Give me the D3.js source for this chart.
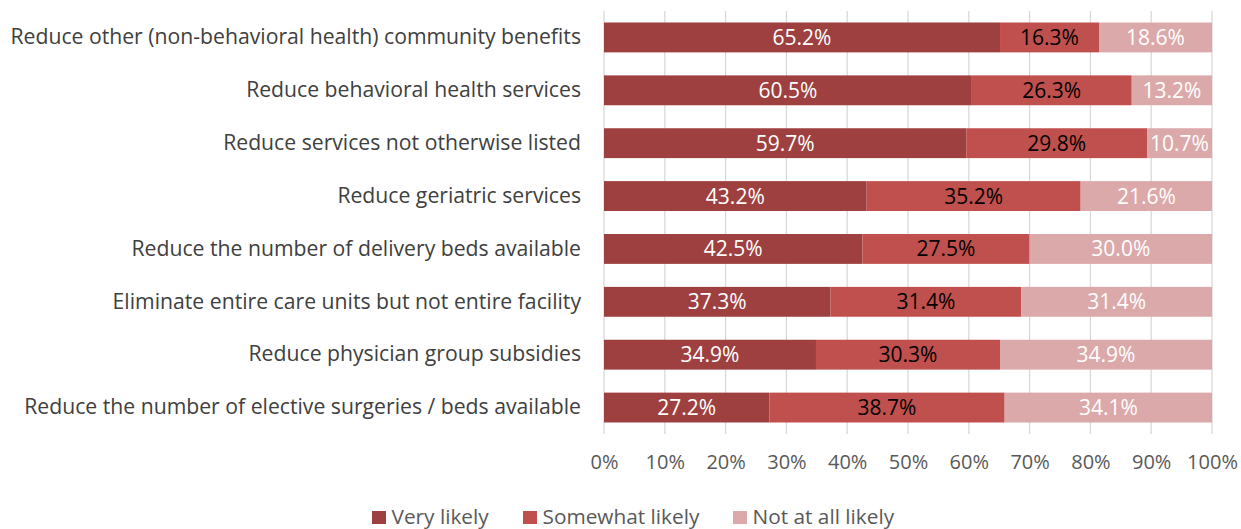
<!DOCTYPE html>
<html><head><meta charset="utf-8">
<script src="https://cdn.jsdelivr.net/npm/d3@7"></script>
<style>body{margin:0;background:#fff;} svg{display:block;font-family:"Open Sans",sans-serif;}</style>
</head><body><svg id="c" width="1241" height="529"></svg>
<script>
const categories = [
  "Reduce other (non-behavioral health) community benefits",
  "Reduce behavioral health services",
  "Reduce services not otherwise listed",
  "Reduce geriatric services",
  "Reduce the number of delivery beds available",
  "Eliminate entire care units but not entire facility",
  "Reduce physician group subsidies",
  "Reduce the number of elective surgeries / beds available"
];
const seriesNames = ["Very likely", "Somewhat likely", "Not at all likely"];
const veryLikely     = [65.2, 60.5, 59.7, 43.2, 42.5, 37.3, 34.9, 27.2];
const somewhatLikely = [16.3, 26.3, 29.8, 35.2, 27.5, 31.4, 30.3, 38.7];
const notAtAllLikely = [18.6, 13.2, 10.7, 21.6, 30.0, 31.4, 34.9, 34.1];
const tickValues = [0, 0.1, 0.2, 0.3, 0.4, 0.5, 0.6, 0.7, 0.8, 0.9, 1.0];
const colors = ["#9E403F", "#C0504D", "#DBA9A9"];
const labelColors = ["#ffffff", "#000000", "#ffffff"];

const svg = d3.select("#c");
const pLeft = 604, pRight = 1212, pTop = 11, pBottom = 434;
const rows = categories.map((c, i) => ({cat: c, s0: veryLikely[i], s1: somewhatLikely[i], s2: notAtAllLikely[i]}));
const stack = d3.stack().keys(["s0", "s1", "s2"]).offset(d3.stackOffsetExpand);
const layers = stack(rows);

const x = d3.scaleLinear().domain([0, 1]).range([pLeft, pRight]);
const y = d3.scaleBand().domain(categories).range([pTop, pBottom]).paddingInner(0.435).paddingOuter(0.2175);

// gridlines
svg.append("g").selectAll("line").data(tickValues).join("line")
  .attr("x1", d => x(d)).attr("x2", d => x(d))
  .attr("y1", pTop).attr("y2", pBottom)
  .attr("stroke", "#d9d9d9").attr("stroke-width", 1.3);

// bars
layers.forEach((layer, k) => {
  const g = svg.append("g");
  g.selectAll("rect").data(layer).join("rect")
    .attr("x", d => x(d[0])).attr("width", d => x(d[1]) - x(d[0]))
    .attr("y", d => y(d.data.cat)).attr("height", y.bandwidth())
    .attr("fill", colors[k]);
  g.selectAll("text").data(layer).join("text")
    .attr("x", d => (x(d[0]) + x(d[1])) / 2)
    .attr("y", d => y(d.data.cat) + y.bandwidth() / 2)
    .attr("dy", "0.36em").attr("text-anchor", "middle")
    .attr("fill", labelColors[k]).attr("font-size", 21)
    .text(d => d.data["s" + k].toFixed(1) + "%");
});

// category labels
const yAxis = d3.axisLeft(y).tickSize(0).tickPadding(23);
const ya = svg.append("g").attr("transform", `translate(${pLeft},0)`).call(yAxis);
ya.select(".domain").remove();
ya.selectAll("text").attr("font-size", 21.2).attr("fill", "#404040").attr("font-family", "'Open Sans', sans-serif");

// x axis
const xAxis = d3.axisBottom(x).tickValues(tickValues).tickFormat(d3.format(".0%")).tickSize(0).tickPadding(21);
const xa = svg.append("g").attr("transform", `translate(0,${pBottom})`).call(xAxis);
xa.select(".domain").remove();
xa.selectAll("text").attr("font-size", 20).attr("fill", "#595959").attr("font-family", "'Open Sans', sans-serif");

// legend
const legendX = [372, 523, 733];
const lg = svg.append("g");
seriesNames.forEach((n, k) => {
  lg.append("rect").attr("x", legendX[k]).attr("y", 511).attr("width", 14).attr("height", 13).attr("fill", colors[k]);
  lg.append("text").attr("x", legendX[k] + 19.5).attr("y", 523.5)
    .attr("font-size", 20.8).attr("fill", "#595959").text(n);
});
</script></body></html>
